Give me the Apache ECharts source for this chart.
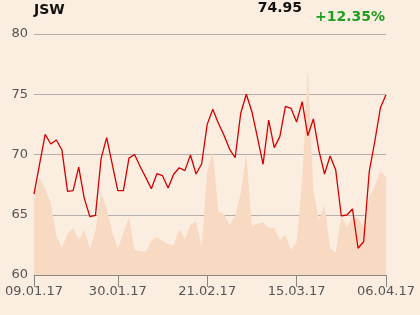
<!DOCTYPE html>
<html>
<head>
<meta charset="utf-8">
<script src="https://cdn.jsdelivr.net/npm/echarts@6/dist/echarts.min.js"></script>
<style>
html,body{margin:0;padding:0;background:#fbede0;}
#chart{width:420px;height:315px;}
</style>
</head>
<body>
<div id="chart"></div>
<script>
const dates = [
 "09.01.17","10.01.17","11.01.17","12.01.17","13.01.17","16.01.17","17.01.17","18.01.17","19.01.17","20.01.17",
 "23.01.17","24.01.17","25.01.17","26.01.17","27.01.17","30.01.17","31.01.17",
 "01.02.17","02.02.17","03.02.17","06.02.17","07.02.17","08.02.17","09.02.17","10.02.17","13.02.17","14.02.17",
 "15.02.17","16.02.17","17.02.17","20.02.17","21.02.17","22.02.17","23.02.17","24.02.17","27.02.17","28.02.17",
 "01.03.17","02.03.17","03.03.17","06.03.17","07.03.17","08.03.17","09.03.17","10.03.17","13.03.17","14.03.17",
 "15.03.17","16.03.17","17.03.17","20.03.17","21.03.17","22.03.17","23.03.17","24.03.17","27.03.17","28.03.17",
 "29.03.17","30.03.17","31.03.17","03.04.17","04.04.17","05.04.17","06.04.17"
];
const price = [
 66.71,69.2,71.68,70.87,71.2,70.37,66.94,67.0,68.96,66.36,
 64.84,64.95,69.63,71.4,69.2,67.0,67.0,69.7,70.0,69.0,
 68.1,67.16,68.41,68.24,67.22,68.36,68.9,68.66,69.96,68.38,
 69.21,72.5,73.75,72.59,71.6,70.45,69.73,73.42,75.0,73.55,
 71.4,69.19,72.86,70.57,71.48,74.0,73.83,72.7,74.38,71.56,
 72.95,70.3,68.38,69.88,68.71,64.9,64.98,65.48,62.22,62.76,
 68.57,71.1,73.88,74.95
];
const volume = [
 76,97,86,72,39,27,41,47,35,45,
 26,44,82,67,43,26,42,58,25,24,
 23,34,38,34,31,30,46,36,50,54,
 28,104,123,63,61,50,59,82,122,49,
 51,53,47,47,35,40,25,33,95,207,
 85,55,70,27,22,59,47,58,57,47,
 78,89,104,98
];
const yTicks = [60,65,70,75,80];
const labelIdx = [0,15,31,47,63];
const ticker = "JSW";
const lastPrice = "74.95";
const change = "+12.35%";

const chart = echarts.init(document.getElementById('chart'), null, {renderer:'canvas'});
chart.setOption({
  backgroundColor:'#fbede0',
  animation:false,
  grid:{left:34,right:34,top:34,bottom:40},
  graphic:[
    {type:'text',left:34,top:3,style:{text:ticker,font:'bold 14px "DejaVu Sans"',fill:'#111'}},
    {type:'text',right:118,top:1,style:{text:lastPrice,font:'bold 14px "DejaVu Sans"',fill:'#111'}},
    {type:'text',right:35,top:10,style:{text:change,font:'bold 14px "DejaVu Sans"',fill:'#1e9e1e'}}
  ],
  xAxis:{
    type:'category',data:dates,boundaryGap:false,
    axisLine:{show:true,lineStyle:{color:'#8a8682',width:1}},
    axisTick:{show:true,length:12,interval:(i)=>labelIdx.includes(i),lineStyle:{color:'#8a8682'}},
    axisLabel:{interval:(i)=>labelIdx.includes(i),color:'#555',fontSize:13,fontFamily:'DejaVu Sans',margin:10,showMinLabel:true,showMaxLabel:true},
    splitLine:{show:false}
  },
  yAxis:[
    {type:'value',min:yTicks[0],max:yTicks[yTicks.length-1],interval:5,
     axisLine:{show:false},axisTick:{show:false},
     axisLabel:{color:'#555',fontSize:13,fontFamily:'DejaVu Sans',margin:6},
     splitLine:{lineStyle:{color:'#b3aeaa',width:1}}},
    {type:'value',min:0,max:241,show:false,splitLine:{show:false}}
  ],
  series:[
    {type:'line',yAxisIndex:1,data:volume,symbol:'none',lineStyle:{width:0},
     areaStyle:{color:'#f8dac3',opacity:1},z:1},
    {type:'line',yAxisIndex:0,data:price,symbol:'none',
     lineStyle:{color:'#d40000',width:1.3},z:3}
  ]
});
</script>
</body>
</html>
